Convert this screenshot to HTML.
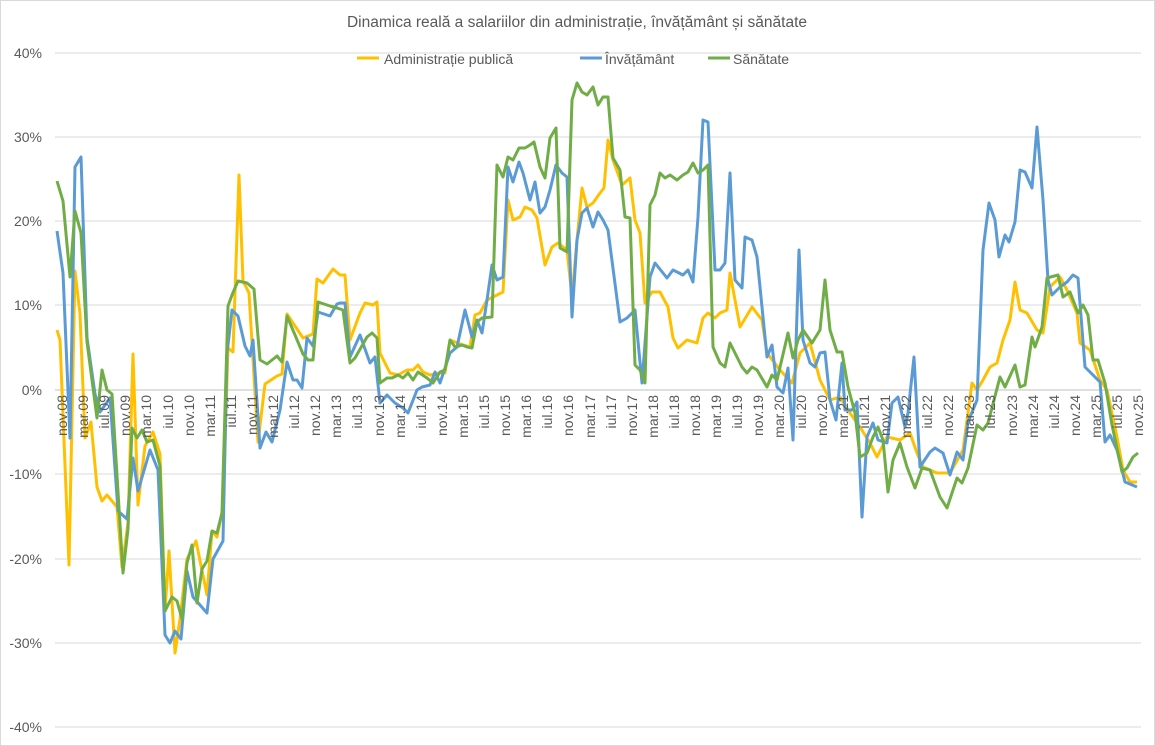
<!DOCTYPE html>
<html><head><meta charset="utf-8"><style>
body{margin:0;background:#fff;}
svg{display:block;font-family:"Liberation Sans",sans-serif;}
</style></head><body>
<svg width="1155" height="746" viewBox="0 0 1155 746" xmlns="http://www.w3.org/2000/svg">
<rect x="0" y="0" width="1155" height="746" fill="#fff"/>
<rect x="0.5" y="0.5" width="1154" height="745" fill="none" stroke="#d9d9d9"/>
<text x="577" y="27" text-anchor="middle" font-size="15.5" fill="#595959">Dinamica reală a salariilor din administrație, învățământ și sănătate</text>
<g stroke="#d9d9d9" stroke-width="1">
<line x1="55" x2="1141" y1="53" y2="53"/><line x1="55" x2="1141" y1="137" y2="137"/>
<line x1="55" x2="1141" y1="221" y2="221"/><line x1="55" x2="1141" y1="305" y2="305"/>
<line x1="55" x2="1141" y1="474" y2="474"/><line x1="55" x2="1141" y1="559" y2="559"/>
<line x1="55" x2="1141" y1="643" y2="643"/><line x1="55" x2="1141" y1="727" y2="727"/>
<line x1="55" x2="1141" y1="390" y2="390" stroke="#bfbfbf"/>
</g>
<g font-size="14" fill="#595959" text-anchor="end">
<text x="42" y="58">40%</text><text x="42" y="142">30%</text><text x="42" y="226">20%</text>
<text x="42" y="310">10%</text><text x="42" y="395">0%</text><text x="42" y="479">-10%</text>
<text x="42" y="564">-20%</text><text x="42" y="648">-30%</text><text x="42" y="732">-40%</text>
</g>
<g fill="#595959" font-size="14">
<line x1="357" x2="379" y1="58" y2="58" stroke="#FFC000" stroke-width="3"/><text x="384" y="64">Administrație publică</text>
<line x1="580" x2="602" y1="58" y2="58" stroke="#5B9BD5" stroke-width="3"/><text x="605" y="64">Învățământ</text>
<line x1="708" x2="730" y1="58" y2="58" stroke="#70AD47" stroke-width="3"/><text x="733" y="64">Sănătate</text>
</g>
<g fill="none" stroke-width="3" stroke-linejoin="round">
<polyline stroke="#FFC000" points="57,330 60,340 69,565 75,271 80,314 85,438 91,422 97,487 102,501 107,495 117,507 122,567 128,523 133,354 138,505 145,446 153,432 160,454 165,611 169,551 175,653 180,619 187,559 196,541 207,595 212,531 217,537 223,507 228,348 233,352 239,175 243,281 249,293 258,442 265,384 277,376 282,374 287,314 303,338 313,334 317,279 323,283 333,269 340,275 345,275 350,340 360,313 365,303 373,305 377,302 380,353 390,373 398,375 407,370 413,370 418,365 423,372 430,375 440,373 445,373 450,340 463,345 470,347 475,315 480,313 487,300 497,295 503,292 508,200 513,220 520,217 525,207 532,210 537,218 545,265 552,247 558,243 567,250 572,297 577,240 582,188 587,207 593,203 600,193 604,188 608,140 613,160 622,185 630,178 635,220 640,233 645,303 652,292 660,292 668,307 673,338 678,348 687,340 697,343 703,318 708,313 715,318 720,313 727,310 730,273 740,327 752,307 762,320 767,353 780,370 792,383 800,353 810,343 820,380 830,400 840,397 850,413 860,427 870,443 877,457 887,437 900,440 910,433 917,453 923,467 937,473 950,473 963,450 972,383 977,390 983,380 990,367 997,363 1003,340 1010,320 1015,282 1020,310 1027,313 1037,330 1043,333 1050,287 1060,277 1067,290 1077,313 1080,343 1090,350 1100,380 1107,390 1117,437 1123,470 1130,482 1137,482"/>
<polyline stroke="#5B9BD5" points="57,231 63,273 70,438 75,167 81,157 87,338 95,394 100,412 110,398 118,511 127,519 133,458 138,491 150,450 158,470 165,635 170,643 175,631 181,639 187,571 193,597 207,613 213,559 223,541 227,354 232,310 238,316 245,346 250,356 253,340 260,448 266,432 272,442 280,410 287,362 293,380 297,380 302,388 307,338 313,346 318,312 330,316 337,304 340,303 345,303 350,357 360,335 370,363 375,357 380,403 387,395 395,403 403,408 408,413 417,390 422,387 430,385 435,372 440,383 450,353 457,347 465,310 472,337 477,320 482,333 487,300 492,265 497,280 503,277 508,167 513,182 519,162 523,173 530,200 535,182 540,213 545,207 550,190 556,165 562,173 567,177 572,317 577,240 582,213 587,208 593,227 598,212 603,220 608,230 620,322 627,318 635,310 642,383 650,277 655,263 667,278 673,270 683,275 688,270 693,282 698,217 703,120 708,122 715,270 720,270 725,263 730,173 735,280 742,288 745,237 752,240 757,257 767,357 772,345 777,387 783,393 788,368 793,440 799,250 803,340 810,363 815,367 820,353 825,352 830,400 836,420 842,363 845,410 852,410 857,402 862,517 867,437 873,423 878,440 887,443 892,403 898,397 905,427 908,413 914,357 920,467 930,452 935,448 943,453 950,475 957,452 963,460 968,422 977,400 983,250 989,203 995,220 999,257 1005,235 1009,242 1015,222 1020,170 1025,172 1032,188 1037,127 1043,200 1048,280 1052,295 1060,287 1067,282 1073,275 1078,278 1085,367 1093,375 1100,382 1105,442 1110,435 1117,450 1125,482 1137,487"/>
<polyline stroke="#70AD47" points="57,181 63,201 70,277 75,211 81,233 87,342 97,418 102,370 107,390 112,394 123,573 128,529 132,428 137,438 142,430 147,442 153,440 160,466 165,611 172,597 177,601 182,619 187,563 192,545 197,603 202,569 207,561 212,531 217,533 222,513 228,306 232,295 238,281 247,283 254,289 260,360 267,364 277,356 282,362 287,316 303,354 308,360 313,360 318,302 330,306 337,308 343,310 350,363 355,358 367,337 372,333 377,338 380,383 387,378 392,378 398,375 403,378 408,373 413,380 418,372 427,378 433,383 440,372 445,370 450,340 455,347 462,345 467,347 472,348 477,322 482,318 492,317 497,165 503,177 508,157 513,160 519,148 525,148 530,145 534,142 540,167 545,178 550,138 556,128 560,248 567,252 572,100 577,83 582,92 587,95 593,87 598,105 603,97 608,97 613,158 620,170 625,217 630,218 635,365 640,370 645,383 650,205 655,195 660,173 665,178 670,175 677,180 683,175 688,172 693,163 698,173 703,170 708,165 713,347 720,363 725,367 730,343 742,367 747,373 752,367 757,370 767,387 772,375 777,380 788,333 793,358 798,340 803,330 812,343 820,330 825,280 830,330 837,352 842,352 848,387 855,413 860,457 867,453 873,437 878,427 883,440 888,492 893,460 900,443 907,467 915,488 922,468 930,470 940,497 947,508 957,478 962,483 968,468 977,425 983,430 988,423 1000,377 1005,387 1015,365 1020,387 1025,385 1032,337 1035,347 1042,327 1047,278 1058,275 1063,297 1070,292 1078,313 1083,305 1088,315 1093,360 1098,360 1105,383 1112,425 1122,472 1127,468 1133,457 1138,453"/>
</g>
<g font-size="14" fill="#595959" text-anchor="end">
<text transform="translate(67,395) rotate(-90)">nov.08</text>
<text transform="translate(88,395) rotate(-90)">mar.09</text>
<text transform="translate(109,395) rotate(-90)">iul.09</text>
<text transform="translate(130,395) rotate(-90)">nov.09</text>
<text transform="translate(151,395) rotate(-90)">mar.10</text>
<text transform="translate(173,395) rotate(-90)">iul.10</text>
<text transform="translate(194,395) rotate(-90)">nov.10</text>
<text transform="translate(215,395) rotate(-90)">mar.11</text>
<text transform="translate(236,395) rotate(-90)">iul.11</text>
<text transform="translate(257,395) rotate(-90)">nov.11</text>
<text transform="translate(278,395) rotate(-90)">mar.12</text>
<text transform="translate(299,395) rotate(-90)">iul.12</text>
<text transform="translate(320,395) rotate(-90)">nov.12</text>
<text transform="translate(341,395) rotate(-90)">mar.13</text>
<text transform="translate(362,395) rotate(-90)">iul.13</text>
<text transform="translate(384,395) rotate(-90)">nov.13</text>
<text transform="translate(405,395) rotate(-90)">mar.14</text>
<text transform="translate(426,395) rotate(-90)">iul.14</text>
<text transform="translate(447,395) rotate(-90)">nov.14</text>
<text transform="translate(468,395) rotate(-90)">mar.15</text>
<text transform="translate(489,395) rotate(-90)">iul.15</text>
<text transform="translate(510,395) rotate(-90)">nov.15</text>
<text transform="translate(531,395) rotate(-90)">mar.16</text>
<text transform="translate(552,395) rotate(-90)">iul.16</text>
<text transform="translate(573,395) rotate(-90)">nov.16</text>
<text transform="translate(595,395) rotate(-90)">mar.17</text>
<text transform="translate(616,395) rotate(-90)">iul.17</text>
<text transform="translate(637,395) rotate(-90)">nov.17</text>
<text transform="translate(658,395) rotate(-90)">mar.18</text>
<text transform="translate(679,395) rotate(-90)">iul.18</text>
<text transform="translate(700,395) rotate(-90)">nov.18</text>
<text transform="translate(721,395) rotate(-90)">mar.19</text>
<text transform="translate(742,395) rotate(-90)">iul.19</text>
<text transform="translate(763,395) rotate(-90)">nov.19</text>
<text transform="translate(784,395) rotate(-90)">mar.20</text>
<text transform="translate(806,395) rotate(-90)">iul.20</text>
<text transform="translate(827,395) rotate(-90)">nov.20</text>
<text transform="translate(848,395) rotate(-90)">mar.21</text>
<text transform="translate(869,395) rotate(-90)">iul.21</text>
<text transform="translate(890,395) rotate(-90)">nov.21</text>
<text transform="translate(911,395) rotate(-90)">mar.22</text>
<text transform="translate(932,395) rotate(-90)">iul.22</text>
<text transform="translate(953,395) rotate(-90)">nov.22</text>
<text transform="translate(974,395) rotate(-90)">mar.23</text>
<text transform="translate(995,395) rotate(-90)">iul.23</text>
<text transform="translate(1017,395) rotate(-90)">nov.23</text>
<text transform="translate(1038,395) rotate(-90)">mar.24</text>
<text transform="translate(1059,395) rotate(-90)">iul.24</text>
<text transform="translate(1080,395) rotate(-90)">nov.24</text>
<text transform="translate(1101,395) rotate(-90)">mar.25</text>
<text transform="translate(1122,395) rotate(-90)">iul.25</text>
<text transform="translate(1143,395) rotate(-90)">nov.25</text>
</g>
</svg>
</body></html>
